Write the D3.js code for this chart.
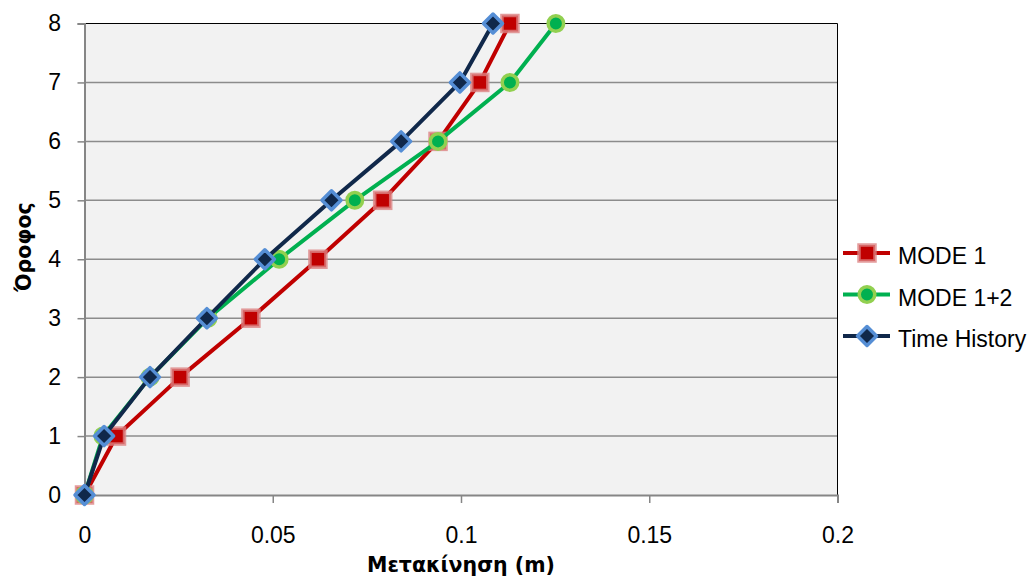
<!DOCTYPE html>
<html>
<head>
<meta charset="utf-8">
<script src="https://cdn.jsdelivr.net/npm/d3@7"></script>
<style>
  body { margin: 0; background: #fff; }
  text { font-family: "Liberation Sans", Arial, sans-serif; fill: #000; }
  .title { font-family: "DejaVu Sans", Verdana, sans-serif; font-weight: bold; }
</style>
</head>
<body>
<div id="chart"></div>
<script>
const floors = [0, 1, 2, 3, 4, 5, 6, 7, 8];
const mode1 = [0, 0.0085, 0.0254, 0.0442, 0.062, 0.0792, 0.0939, 0.1050, 0.1130];
const mode12 = [0, 0.0049, 0.0174, 0.0328, 0.0517, 0.0718, 0.0939, 0.1130, 0.1252];
const timeHistory = [0, 0.0052, 0.0174, 0.0325, 0.0479, 0.0656, 0.0841, 0.0997, 0.1085];
const xTicks = [0, 0.05, 0.1, 0.15, 0.2];
const seriesNames = ["MODE 1", "MODE 1+2", "Time History"];

const width = 1032, height = 579;
const margin = { top: 23.5, right: 194.5, bottom: 84, left: 84.5 };
const iw = width - margin.left - margin.right;
const ih = height - margin.top - margin.bottom;

const svg = d3.select("#chart").append("svg")
    .attr("width", width)
    .attr("height", height);

const g = svg.append("g")
    .attr("transform", `translate(${margin.left},${margin.top})`);

const x = d3.scaleLinear().domain([0, 0.2]).range([0, iw]);
const y = d3.scaleLinear().domain([0, 8]).range([ih, 0]);

// plot area
g.append("rect")
    .attr("width", iw).attr("height", ih)
    .attr("fill", "#f2f2f2");

// gridlines
g.selectAll(".grid").data(floors.slice(1, -1)).enter()
    .append("line")
    .attr("x1", 0).attr("x2", iw)
    .attr("y1", d => y(d)).attr("y2", d => y(d))
    .attr("stroke", "#8c8c8c").attr("stroke-width", 1.5);

// top and right border
g.append("path")
    .attr("d", `M0,${y(8)}H${iw}V${ih}`)
    .attr("fill", "none").attr("stroke", "#000").attr("stroke-width", 1);

// axes
const yAxis = g.append("g")
    .call(d3.axisLeft(y).tickValues(floors).tickFormat(d3.format("d")).tickSize(7).tickPadding(16.5));
const xAxis = g.append("g")
    .attr("transform", `translate(0,${ih})`)
    .call(d3.axisBottom(x).tickValues(xTicks).tickFormat(d => d === 0 ? "0" : String(d)).tickSize(8).tickPadding(24));

[yAxis, xAxis].forEach(a => {
    a.select(".domain").attr("stroke", "#868686").attr("stroke-width", 2);
    a.selectAll(".tick line").attr("stroke", "#868686").attr("stroke-width", 1.5);
    a.selectAll(".tick text").attr("font-size", 23).attr("font-family", "Liberation Sans, Arial, sans-serif").attr("fill", "#000");
});

// axis titles
svg.append("text")
    .attr("class", "title")
    .attr("x", margin.left + iw / 2)
    .attr("y", 572)
    .attr("text-anchor", "middle")
    .attr("font-size", 20.5)
    .text("Μετακίνηση (m)");
svg.append("text")
    .attr("class", "title")
    .attr("transform", "translate(31,247) rotate(-90)")
    .attr("text-anchor", "middle")
    .attr("font-size", 20.5)
    .text("Όροφος");

const series = [
    { name: seriesNames[0], values: mode1, line: "#c00000", fill: "#c00000", edge: "rgba(220,130,130,0.8)", shape: "square" },
    { name: seriesNames[1], values: mode12, line: "#00b050", fill: "#00b050", edge: "#92d050", shape: "circle" },
    { name: seriesNames[2], values: timeHistory, line: "#10284a", fill: "#10284a", edge: "#558ed5", shape: "diamond" }
];

const lineGen = d3.line().x(d => x(d[0])).y(d => y(d[1]));

function drawMarker(sel, s, cx, cy) {
    if (s.shape === "square") {
        sel.append("rect")
            .attr("x", cx - 8).attr("y", cy - 8).attr("width", 16).attr("height", 16)
            .attr("fill", s.fill).attr("stroke", s.edge).attr("stroke-width", 3.5);
    } else if (s.shape === "circle") {
        sel.append("circle")
            .attr("cx", cx).attr("cy", cy).attr("r", 7.75)
            .attr("fill", s.fill).attr("stroke", s.edge).attr("stroke-width", 3.5);
    } else {
        sel.append("path")
            .attr("d", `M${cx},${cy - 9.5}L${cx + 9.5},${cy}L${cx},${cy + 9.5}L${cx - 9.5},${cy}Z`)
            .attr("fill", s.fill).attr("stroke", s.edge).attr("stroke-width", 3.5)
            .attr("stroke-linejoin", "round");
    }
}

series.forEach(s => {
    const pts = s.values.map((v, i) => [v, floors[i]]);
    g.append("path")
        .datum(pts)
        .attr("d", lineGen)
        .attr("fill", "none")
        .attr("stroke", s.line).attr("stroke-width", 4)
        .attr("stroke-linejoin", "round");
    const mg = g.append("g");
    pts.forEach(p => drawMarker(mg, s, x(p[0]), y(p[1])));
});

// legend
const legend = svg.append("g");
series.forEach((s, i) => {
    const ly = 253 + i * 41.5;
    legend.append("line")
        .attr("x1", 843).attr("x2", 890)
        .attr("y1", ly).attr("y2", ly)
        .attr("stroke", s.line).attr("stroke-width", 4);
    drawMarker(legend, s, 867, ly);
    legend.append("text")
        .attr("x", 898).attr("y", ly + 11)
        .attr("font-size", 23)
        .text(s.name);
});
</script>
</body>
</html>
